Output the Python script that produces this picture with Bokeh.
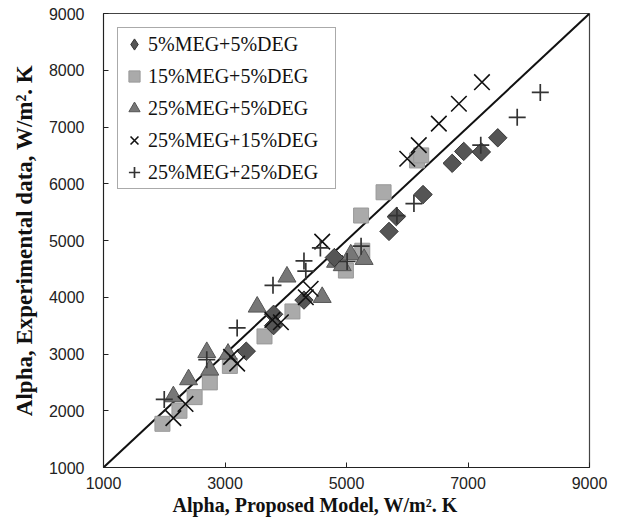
import math
from bokeh.plotting import figure
from bokeh.models import Range1d, FixedTicker, Legend, LegendItem, Title
from bokeh.embed import file_html
from bokeh.resources import INLINE

# ---- data ----
series_names = ["5%MEG+5%DEG", "15%MEG+5%DEG", "25%MEG+5%DEG",
                "25%MEG+15%DEG", "25%MEG+25%DEG"]

d1_x = [3350, 3800, 3800, 4300, 4800, 5700, 5820, 6260, 6740, 6930, 7220, 7490]
d1_y = [3050, 3700, 3500, 3950, 4700, 5160, 5420, 5810, 6360, 6570, 6560, 6810]

d2_x = [1970, 2250, 2500, 2750, 3080, 3650, 4110, 4990, 5260, 5240, 5610, 6160, 6230]
d2_y = [1770, 2000, 2240, 2500, 2790, 3310, 3750, 4470, 4820, 5440, 5850, 6410, 6500]

d3_x = [2150, 2400, 2700, 2750, 3050, 3530, 4020, 4600, 4820, 4930, 5070, 5290]
d3_y = [2250, 2550, 3030, 2720, 3000, 3830, 4360, 4000, 4620, 4560, 4750, 4670]

d4_x = [2150, 2350, 3100, 3200, 3780, 3920, 4330, 4410, 4600, 6000, 6190, 6520, 6850, 7230]
d4_y = [1870, 2120, 2950, 2830, 3600, 3560, 4000, 4150, 4980, 6440, 6680, 7060, 7410, 7790]

d5_x = [2000, 2700, 3200, 3790, 4300, 4330, 4570, 5010, 5240, 5830, 6110, 7210, 7810, 8190]
d5_y = [2200, 2900, 3460, 4210, 4640, 4460, 4870, 4630, 4900, 5440, 5650, 6680, 7170, 7610]

parity = [1000, 9000]
x_ticks = [1000, 3000, 5000, 7000, 9000]
y_ticks = [1000, 2000, 3000, 4000, 5000, 6000, 7000, 8000, 9000]
x_title = "Alpha, Proposed Model, W/m². K"
y_title = "Alpha, Experimental data, W/m². K"

p = figure(width=624, height=529, output_backend="svg", toolbar_location=None,
           x_range=Range1d(1000, 9000), y_range=Range1d(1000, 9000),
           min_border_left=103, min_border_right=35,
           min_border_top=13, min_border_bottom=62)

p.background_fill_color = "white"
p.border_fill_color = "white"
p.xgrid.visible = False
p.ygrid.visible = False
p.outline_line_color = "#444444"
p.outline_line_width = 1.2

for ax in (p.xaxis[0], p.yaxis[0]):
    ax.axis_line_color = "#222222"
    ax.major_tick_line_color = "#222222"
    ax.major_tick_in = 5
    ax.major_tick_out = 0
    ax.minor_tick_in = 0
    ax.minor_tick_out = 0
    ax.major_label_text_font = "Liberation Sans"
    ax.major_label_text_font_size = "16px"
    ax.major_label_text_color = "#222222"
    ax.axis_label_text_font = "Liberation Serif"
    ax.axis_label_text_font_style = "bold"
    ax.axis_label_text_color = "#111111"

p.xaxis.ticker = FixedTicker(ticks=x_ticks)
p.yaxis.ticker = FixedTicker(ticks=y_ticks)
p.yaxis.axis_label = y_title
p.yaxis.axis_label_text_font_size = "23px"
p.xaxis.major_label_standoff = 9
p.yaxis.major_label_standoff = 19
p.yaxis.axis_label_standoff = 9

xt = Title(text=x_title, align="left", offset=69, standoff=0,
           text_font="Liberation Serif", text_font_style="bold",
           text_font_size="20px", text_color="#111111")
p.add_layout(xt, "below")

p.line(parity, parity, line_color="#111111", line_width=2)

r2 = p.scatter(d2_x, d2_y, marker="square", size=15,
               fill_color="#aaaaaa", line_color="#999999", line_width=1)
r3 = p.scatter(d3_x, d3_y, marker="triangle", size=18,
               fill_color="#777777", line_color="#555555", line_width=1)
r1 = p.scatter(d1_x, d1_y, marker="square", size=13, angle=math.pi / 4,
               fill_color="#555555", line_color="#333333", line_width=1)
# same points, zero size: only supplies the diamond shape for the legend
r1_key = p.scatter(d1_x, d1_y, marker="diamond", size=0,
                   fill_color="#555555", line_color="#333333", line_width=1)
r4 = p.scatter(d4_x, d4_y, marker="x", size=22,
               line_color="#111111", line_width=1.6)
r5 = p.scatter(d5_x, d5_y, marker="cross", size=17,
               line_color="#333333", line_width=1.7)

legend = Legend(items=[
    LegendItem(label=series_names[0], renderers=[r1_key]),
    LegendItem(label=series_names[1], renderers=[r2]),
    LegendItem(label=series_names[2], renderers=[r3]),
    LegendItem(label=series_names[3], renderers=[r4]),
    LegendItem(label=series_names[4], renderers=[r5]),
], location="top_left")
legend.margin = 14
legend.padding = 2
legend.spacing = 4
legend.glyph_width = 28
legend.glyph_height = 28
legend.label_height = 28
legend.label_width = 185
legend.label_standoff = 0
legend.label_text_font = "Liberation Serif"
legend.label_text_font_size = "20px"
legend.label_text_color = "#111111"
legend.border_line_color = "#555555"
legend.border_line_width = 1
legend.background_fill_color = "white"
legend.background_fill_alpha = 1
p.add_layout(legend)

open("out.html", "w").write(file_html(p, INLINE))
